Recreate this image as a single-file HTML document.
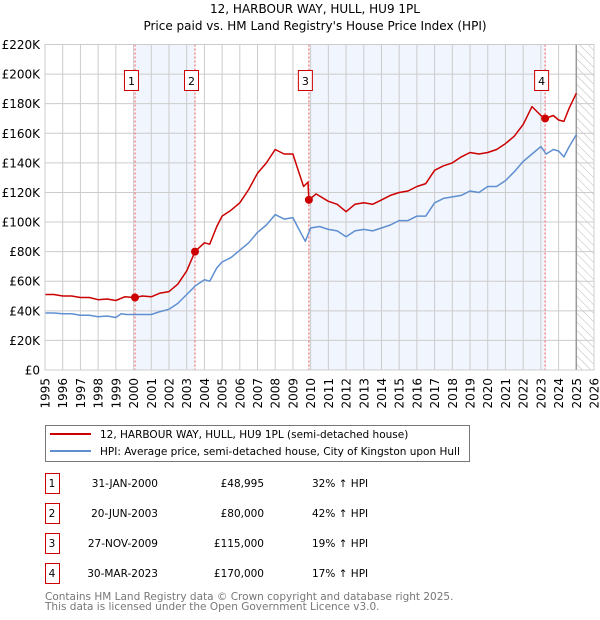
<!DOCTYPE html>
<html><head><meta charset="utf-8"><style>
body{margin:0;background:#fff;font-family:"DejaVu Sans","Liberation Sans",sans-serif}
svg{display:block}
</style></head><body>
<svg id="c" width="600" height="620" xmlns="http://www.w3.org/2000/svg" font-family="DejaVu Sans, Liberation Sans, sans-serif">
<text x="315" y="13" text-anchor="middle" font-size="12">12, HARBOUR WAY, HULL, HU9 1PL</text>
<text x="315" y="30" text-anchor="middle" font-size="12">Price paid vs. HM Land Registry's House Price Index (HPI)</text>
<defs><pattern id="hatch" width="6" height="6" patternUnits="userSpaceOnUse" patternTransform="rotate(-45)"><line x1="0" y1="0" x2="0" y2="6" stroke="#bbb" stroke-width="1"/></pattern></defs>
<g id="plot"></g>
<g>
<rect x="45.5" y="425.5" width="424" height="36" fill="#fff" stroke="#777"/>
<line x1="50" y1="434" x2="91" y2="434" stroke="#cc0000" stroke-width="2"/>
<text x="100" y="438" font-size="10.5">12, HARBOUR WAY, HULL, HU9 1PL (semi-detached house)</text>
<line x1="50" y1="451" x2="91" y2="451" stroke="#5f8fd0" stroke-width="2"/>
<text x="100" y="455" font-size="10.5">HPI: Average price, semi-detached house, City of Kingston upon Hull</text>
</g>
<g id="table" font-size="10.5"></g>
<text x="45" y="600" font-size="10.5" fill="#777">Contains HM Land Registry data © Crown copyright and database right 2025.</text>
<text x="45" y="610" font-size="10.5" fill="#777">This data is licensed under the Open Government Licence v3.0.</text>
</svg>
<script>
const hpiYears=[1995,1995.5,1996,1996.5,1997,1997.5,1998,1998.5,1999,1999.3,1999.6,2000,2000.5,2001,2001.5,2002,2002.5,2003,2003.5,2004,2004.3,2004.7,2005,2005.5,2006,2006.5,2007,2007.5,2008,2008.5,2009,2009.3,2009.7,2010,2010.5,2011,2011.5,2012,2012.5,2013,2013.5,2014,2014.5,2015,2015.5,2016,2016.5,2017,2017.5,2018,2018.5,2019,2019.5,2020,2020.5,2021,2021.5,2022,2022.5,2023,2023.3,2023.7,2024,2024.3,2024.6,2025];
const hpiValues=[38.5,38.5,38,38,37,37,36,36.5,35.5,38,37.5,37.5,37.5,37.5,39.5,41,45,51,57,61,60,69,73,76,81,86,93,98,105,102,103,96,87,96,97,95,94,90,94,95,94,96,98,101,101,104,104,113,116,117,118,121,120,124,124,128,134,141,146,151,146,149,148,144,151,159];
const propYears=[1995,1995.5,1996,1996.5,1997,1997.5,1998,1998.5,1999,1999.5,2000.08,2000.5,2001,2001.5,2002,2002.5,2003,2003.47,2004,2004.3,2004.7,2005,2005.5,2006,2006.5,2007,2007.5,2008,2008.5,2009,2009.3,2009.6,2009.85,2009.9,2010.3,2011,2011.5,2012,2012.5,2013,2013.5,2014,2014.5,2015,2015.5,2016,2016.5,2017,2017.5,2018,2018.5,2019,2019.5,2020,2020.5,2021,2021.5,2022,2022.5,2023,2023.24,2023.7,2024,2024.3,2024.6,2025];
const propValues=[51,51,50,50,49,49,47.5,48,47,49.5,49,50,49.5,52,53,58,67,80,86,85,97,104,108,113,122,133,140,149,146,146,135,124,127,115,119,114,112,107,112,113,112,115,118,120,121,124,126,135,138,140,144,147,146,147,149,153,158,166,178,172,170,172,169,168,177,187];
const saleYears=[2000.08,2003.47,2009.9,2023.24];
const saleValues=[48.995,80,115,170];
const saleLabels=["1","2","3","4"];
const saleDates=["31-JAN-2000","20-JUN-2003","27-NOV-2009","30-MAR-2023"];
const salePrices=["£48,995","£80,000","£115,000","£170,000"];
const salePct=["32% ↑ HPI","42% ↑ HPI","19% ↑ HPI","17% ↑ HPI"];
const yTicks=[0,20,40,60,80,100,120,140,160,180,200,220];
const yTickLabels=["£0","£20K","£40K","£60K","£80K","£100K","£120K","£140K","£160K","£180K","£200K","£220K"];
const xTicks=[1995,1996,1997,1998,1999,2000,2001,2002,2003,2004,2005,2006,2007,2008,2009,2010,2011,2012,2013,2014,2015,2016,2017,2018,2019,2020,2021,2022,2023,2024,2025,2026];

const X0=45,X1=594,Y0=370,Y1=44.5;
const sx=v=>X0+(v-1995)/(2026-1995)*(X1-X0);
const sy=v=>Y0-v/220*(Y0-Y1);
const NS="http://www.w3.org/2000/svg";
const plot=document.getElementById('plot');
function mk(tag,attrs,parent){const e=document.createElementNS(NS,tag);for(const k in attrs)e.setAttribute(k,attrs[k]);(parent||plot).appendChild(e);return e;}

let r=mk('rect',{x:sx(saleYears[0]),y:Y1,width:sx(saleYears[1])-sx(saleYears[0]),height:Y0-Y1,fill:'#eef3fc',opacity:0.8});


r=mk('rect',{x:sx(saleYears[2]),y:Y1,width:sx(saleYears[3])-sx(saleYears[2]),height:Y0-Y1,fill:'#eef3fc',opacity:0.8});


r=mk('rect',{x:sx(2025),y:Y1,width:X1-sx(2025),height:Y0-Y1,fill:'url(#hatch)'});


xTicks.forEach((t,i)=>{
  const l=mk('line',{x1:sx(t),x2:sx(t),y1:Y1,y2:Y0,stroke:'#cccccc','stroke-width':1});
  
  
  const tx=mk('text',{transform:`translate(${sx(t)+4.5},378) rotate(-90)`,'font-size':12,'text-anchor':'end'});
  tx.textContent=t;
  
  
});
yTicks.forEach((t,i)=>{
  const l=mk('line',{x1:X0,x2:X1,y1:sy(t),y2:sy(t),stroke:'#cccccc','stroke-width':1});
  
  
  const tx=mk('text',{x:40,y:sy(t)+4.5,'font-size':12,'text-anchor':'end'});
  tx.textContent=yTickLabels[i];
  
  
});
let vl=mk('line',{x1:sx(2025),x2:sx(2025),y1:Y1,y2:Y0,stroke:'#999','stroke-width':1.5});


saleYears.forEach((y,i)=>{
  const l=mk('line',{x1:sx(y),x2:sx(y),y1:Y1,y2:Y0,stroke:'#ee5555','stroke-width':1,'stroke-dasharray':'2,2'});
  
  
});
const path=(xs,vs)=>xs.map((x,i)=>(i?'L':'M')+sx(x).toFixed(1)+','+sy(vs[i]).toFixed(1)).join('');
let p=mk('path',{d:path(hpiYears,hpiValues),fill:'none',stroke:'#5f8fd0','stroke-width':1.5,'stroke-linejoin':'round'});


p=mk('path',{d:path(propYears,propValues),fill:'none',stroke:'#cc0000','stroke-width':1.5,'stroke-linejoin':'round'});


saleYears.forEach((y,i)=>{
  const c=mk('circle',{cx:sx(y),cy:sy(saleValues[i]),r:4,fill:'#cc0000'});
  
  
  const bx=sx(y)-3-7;
  const b=mk('rect',{x:bx-0.5,y:70.5,width:14,height:20,fill:'#fff',stroke:'#cc0000'});
  
  
  const t=mk('text',{x:bx+6.5,y:85,'font-size':11,'text-anchor':'middle'});
  t.textContent=saleLabels[i];
  
  
});
let fr=mk('rect',{x:X0,y:Y1,width:X1-X0,height:Y0-Y1,fill:'none',stroke:'#cccccc'});



const tb=document.getElementById('table');
saleLabels.forEach((s,i)=>{
  const cy=483+i*30;
  const b=mk('rect',{x:45.5,y:cy-9.5,width:14,height:20,fill:'#fff',stroke:'#cc0000'},tb);
  
  
  const cells=[[52,'middle',s],[158,'end',saleDates[i]],[264,'end',salePrices[i]],[312,'start',salePct[i]]];
  cells.forEach(c=>{
    const t=mk('text',{x:c[0],y:cy+4,'text-anchor':c[1]},tb);
    t.textContent=c[2];
    
    
  });
});
</script>
</body></html>
